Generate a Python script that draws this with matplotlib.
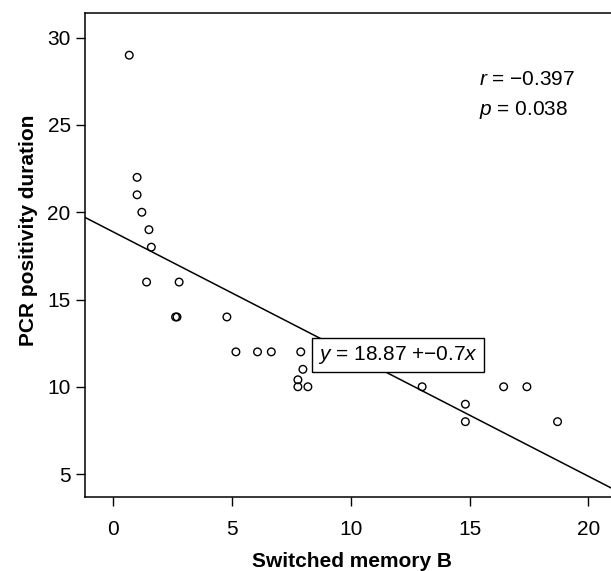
import matplotlib
matplotlib.use("Agg")
import matplotlib.pyplot as plt
from matplotlib import font_manager

# ── Data ──────────────────────────────────────────────────────────────────────
switched_b = [0.67, 1.0, 1.0, 1.2, 1.5, 1.6, 1.4, 2.77, 2.62, 2.68, 4.78,
              5.16, 6.07, 6.65, 7.89, 7.98, 7.77, 7.77, 8.19,
              13.0, 14.82, 14.82, 16.43, 17.41, 18.7]
pcr_days = [29, 22, 21, 20, 19, 18, 16, 16, 14, 14, 14,
            12, 12, 12, 12, 11, 10.4, 10, 10,
            10, 9, 8, 10, 10, 8]

intercept = 18.87
slope = -0.7
r_value = "−0.397"
p_value = "0.038"

x_ticks = [0, 5, 10, 15, 20]
y_ticks = [5, 10, 15, 20, 25, 30]

# ── Fonts ─────────────────────────────────────────────────────────────────────
installed = {f.name for f in font_manager.fontManager.ttflist}
main_font = "Liberation Sans Narrow" if "Liberation Sans Narrow" in installed else "Liberation Sans"

plt.rcParams["font.family"] = [main_font, "DejaVu Sans"]
plt.rcParams["mathtext.fontset"] = "custom"
plt.rcParams["mathtext.rm"] = main_font
plt.rcParams["mathtext.it"] = main_font + ":italic"

# ── Plot ──────────────────────────────────────────────────────────────────────
fig = plt.figure(figsize=(6.11, 5.71), dpi=100)
ax = fig.add_axes([0.1396, 0.1301, 1.0 - 0.1396, 0.9767 - 0.1301])

ax.scatter(switched_b, pcr_days, s=30, facecolors="none", edgecolors="black",
           linewidths=1.0, zorder=2)
ax.axline((0, intercept), slope=slope, color="black", lw=1.1, zorder=3)

ax.set_xlim(-1.18, 20.95)
ax.set_ylim(3.7, 31.4)
ax.set_xticks(x_ticks)
ax.set_yticks(y_ticks)

ax.spines["right"].set_visible(False)
for sp in ["left", "top", "bottom"]:
    ax.spines[sp].set_linewidth(1.1)

ax.tick_params(axis="both", direction="out", length=6.5, width=1.0, labelsize=15)
ax.tick_params(axis="x", pad=10)
ax.tick_params(axis="y", pad=4)

ax.set_xlabel("Switched memory B", fontsize=15, fontweight="bold")
ax.set_ylabel("PCR positivity duration", fontsize=15, fontweight="bold")
ax.xaxis.set_label_coords(0.507, -0.114)
ax.yaxis.set_label_coords(-0.090, 0.552)

ax.text(11.98, 11.82, f"$y$ = {intercept:.2f} +{slope:.1f}$x$".replace("-", "−"),
        fontsize=15, ha="center", va="center", zorder=5,
        bbox=dict(boxstyle="square,pad=0.3", facecolor="white",
                  edgecolor="black", linewidth=1.0))

ax.text(15.4, 27.6, f"$r$ = {r_value}", fontsize=15, ha="left", va="center")
ax.text(15.4, 25.85, f"$p$ = {p_value}", fontsize=15, ha="left", va="center")

plt.savefig("out.png", dpi=100)
plt.close()
